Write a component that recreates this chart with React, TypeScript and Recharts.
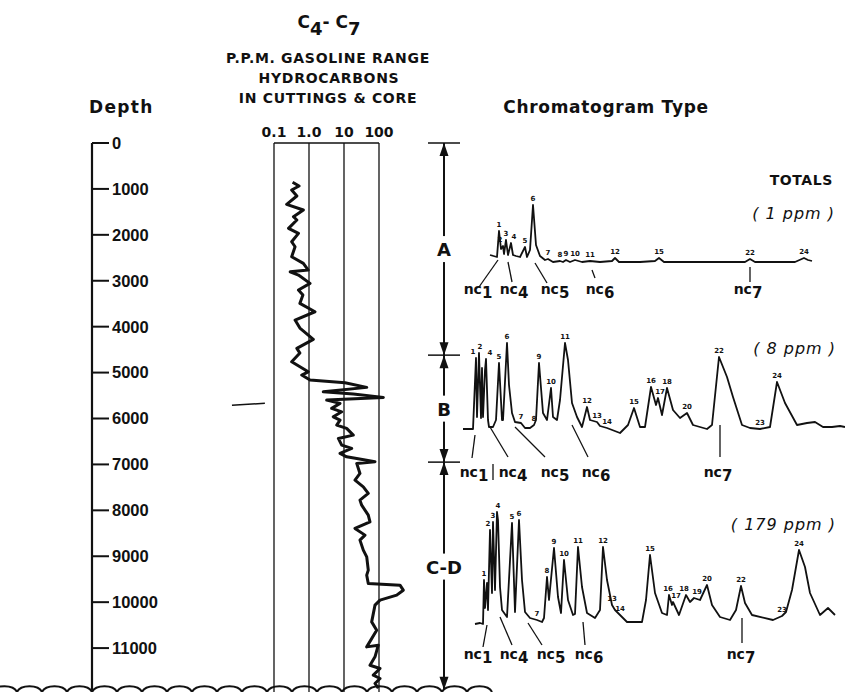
import React from 'react';
import {
  ComposedChart,
  LineChart,
  Line,
  XAxis,
  YAxis,
  ReferenceLine,
  ReferenceDot,
  Scatter,
  LabelList,
} from 'recharts';

// ---- C4-C7 gasoline range hydrocarbons (ppm) vs depth (ft) ----
const depthFt = [
  856, 937, 1024, 1155, 1335, 1460, 1606, 1678, 1858, 1967,
  2150, 2259, 2477, 2621, 2767, 2804, 2876, 3057, 3203, 3312,
  3492, 3675, 3856, 4031, 4277, 4473, 4575, 4765, 4983, 5054,
  5163, 5222, 5322, 5418, 5468, 5540, 5599, 5671, 5780, 5854,
  5963, 6035, 6144, 6216, 6362, 6434, 6580, 6652, 6760, 6834,
  6869, 6943, 6978, 7196, 7342, 7488, 7632, 7778, 7887, 8105,
  8251, 8394, 8540, 8649, 8867, 9013, 9303, 9412, 9593, 9630,
  9739, 9847, 9956, 10065, 10429, 10610, 10974, 10937, 11191, 11373,
  11445, 11590, 11662, 11771, 11874,
];
const ppmC4C7 = [
  0.34, 0.52, 0.32, 0.45, 0.23, 0.69, 0.36, 0.45, 0.26, 0.5,
  0.32, 0.4, 0.32, 0.69, 0.95, 0.29, 0.5, 1.07, 0.5, 0.67,
  0.55, 1.48, 0.4, 0.55, 1.33, 0.45, 0.55, 0.32, 0.95, 0.62,
  1.07, 10.7, 44.6, 2.56, 18.4, 133, 3.2, 7.7, 4.45, 8.6,
  4.94, 7.7, 6.2, 11.9, 18.4, 6.9, 8.6, 16.6, 7.7, 11.9,
  23.1, 76.9, 23.1, 28.6, 20.6, 35.6, 49.4, 28.6, 32, 49.4,
  55.3, 20.6, 39.8, 28.6, 35.6, 44.6, 49.4, 44.6, 49.4, 398,
  494, 321, 107, 76.9, 61.8, 85.9, 44.6, 95.5, 76.9, 55.3,
  107, 68.7, 107, 76.9, 95.5,
];
const depthTicks = [0, 1000, 2000, 3000, 4000, 5000, 6000, 7000, 8000, 9000, 10000, 11000];
const ppmTicks = [0.1, 1, 10, 100];
const sampleMarkDepth = 5690;

// ---- zones ----
const zoneNames = ['A', 'B', 'C-D'];
const zoneTops = [0, 4620, 6950];
const zoneBottom = 11906;
const zoneLabelDepths = [2310, 5785, 9225];

// ---- chromatograms (retention, response); peaks: [number, retention, label nudge] ----
const tA = [3.0, 3.7, 3.9, 4.1, 4.3, 4.4, 4.6, 4.8, 5.1, 5.3, 5.6, 6.0, 6.5, 6.7, 7.0, 7.3, 7.6, 8.0, 8.5, 8.8, 9.3, 10.0, 10.3, 10.6, 11.0, 11.5, 12.2, 13.0, 14.0, 15.2, 15.5, 15.9, 18.0, 19.5, 19.9, 20.4, 24.0, 28.5, 29.0, 29.5, 33.5, 34.4, 34.8, 35.2];
const rA = [10, 8, 34, 16, 19, 11, 25, 10, 22, 10, 9, 8, 18, 8, 15, 60, 20, 9, 5, 6, 3, 4, 3, 5, 3, 5, 3, 4, 3, 4, 7, 3, 3, 4, 7, 3, 3, 3, 6, 3, 3, 7, 5, 4];
const peaksA: [string, number, number][] = [['1', 3.9, 0], ['2', 4.3, -3], ['3', 4.6, 0], ['4', 5.1, 3], ['5', 6.5, 0], ['6', 7.3, 0], ['7', 8.8, 0], ['8', 10.0, 0], ['9', 10.6, 0], ['10', 11.5, 0], ['11', 13.0, 0], ['12', 15.5, 0], ['15', 19.9, 0], ['22', 29.0, 0], ['24', 34.4, 0]];

const tB = [0.3, 1.3, 1.6, 1.7, 1.9, 2.1, 2.2, 2.3, 2.5, 2.6, 2.8, 2.9, 3.3, 3.6, 3.9, 4.2, 4.3, 4.7, 4.9, 5.2, 5.5, 6.1, 6.5, 7.0, 7.4, 7.6, 7.9, 8.3, 8.7, 9.1, 9.3, 9.7, 10.0, 10.5, 10.8, 11.2, 11.7, 12.2, 12.7, 13.0, 13.7, 14.0, 14.7, 16.0, 16.8, 17.4, 18.0, 18.5, 19.1, 19.6, 19.8, 20.2, 20.7, 21.3, 22.0, 22.7, 23.3, 24.7, 25.2, 25.9, 26.7, 27.3, 28.2, 29.0, 30.0, 31.0, 31.7, 32.5, 33.7, 34.7, 35.5, 36.3, 37.2, 38.0, 38.5];
const rB = [6, 6, 77, 18, 82, 17, 67, 18, 65, 76, 15, 8, 8, 15, 72, 15, 15, 92, 50, 22, 13, 12, 7, 7, 10, 15, 72, 22, 15, 47, 18, 15, 35, 92, 75, 32, 18, 8, 28, 15, 13, 9, 7, 2, 10, 27, 8, 8, 48, 30, 37, 20, 47, 25, 17, 22, 10, 6, 10, 78, 58, 38, 10, 7, 6, 8, 53, 32, 10, 12, 13, 8, 8, 9, 8];
const peaksB: [string, number, number][] = [['1', 1.6, -3], ['2', 1.9, 1], ['4', 2.6, 4], ['5', 3.9, 0], ['6', 4.7, 0], ['7', 6.1, 0], ['8', 7.4, 0], ['9', 7.9, 0], ['10', 9.1, 0], ['11', 10.5, 0], ['12', 12.7, 0], ['13', 13.7, 0], ['14', 14.7, 0], ['15', 17.4, 0], ['16', 19.1, 0], ['17', 19.8, 2], ['18', 20.7, 0], ['20', 22.7, 0], ['22', 25.9, 0], ['23', 30.0, 0], ['24', 31.7, 0]];

const tC = [1.5, 2.0, 2.3, 2.4, 2.5, 2.7, 2.8, 3.0, 3.2, 3.3, 3.5, 3.7, 3.8, 4.0, 4.2, 4.7, 5.2, 5.5, 5.9, 6.2, 6.5, 7.0, 7.7, 8.2, 8.4, 8.7, 8.9, 9.4, 9.8, 10.1, 10.4, 10.8, 11.3, 11.5, 11.8, 12.2, 12.7, 13.5, 14.0, 14.3, 14.7, 15.2, 15.5, 16.0, 16.7, 18.2, 18.6, 19.0, 19.5, 20.2, 20.7, 20.9, 21.2, 21.3, 21.9, 22.6, 23.0, 23.4, 24.0, 24.7, 25.2, 26.0, 27.0, 27.6, 28.1, 28.5, 29.2, 31.3, 32.2, 32.6, 33.2, 33.9, 34.5, 35.0, 36.0, 36.8, 37.5];
const rC = [4, 5, 4, 48, 20, 45, 18, 98, 35, 106, 38, 116, 108, 41, 18, 11, 105, 16, 108, 48, 16, 10, 8, 6, 10, 51, 28, 80, 31, 15, 68, 28, 13, 14, 81, 41, 15, 10, 18, 81, 48, 23, 18, 13, 6, 6, 28, 73, 35, 15, 13, 33, 23, 26, 13, 33, 26, 30, 28, 43, 23, 11, 8, 18, 42, 25, 13, 8, 12, 16, 38, 78, 61, 35, 13, 20, 13];
const peaksC: [string, number, number][] = [['1', 2.4, 0], ['2', 3.0, -2], ['3', 3.3, 0], ['4', 3.7, 1], ['5', 5.2, 0], ['6', 5.9, 0], ['7', 7.7, 0], ['8', 8.7, 0], ['9', 9.4, 0], ['10', 10.4, 0], ['11', 11.8, 0], ['12', 14.3, 0], ['13', 15.2, 0], ['14', 16.0, 0], ['15', 19.0, 0], ['16', 20.9, -1], ['17', 21.3, 3], ['18', 22.6, -2], ['19', 23.4, 3], ['20', 24.7, 0], ['22', 28.1, 0], ['23', 32.2, 0], ['24', 33.9, 0]];

// normal paraffin markers: nc1, nc4, nc5, nc6, nc7
const ncNames = ['1', '4', '5', '6', '7'];
const ncTextA = [1.8, 5.4, 9.5, 14.0, 28.8];
const ncLeadA = [[3.8, 5, 1.9, -22], [4.8, 3, 5.2, -17], [7.5, 2, 8.7, -18], [13.2, -5, 13.5, -13], [29.0, -2, 29.0, -17]];
const ncTextB = [1.4, 5.3, 9.5, 13.6, 25.8];
const ncLeadB = [[1.5, 0, 1.2, -23], [3.0, 8, 4.8, -22], [5.5, 8, 8.5, -22], [11.2, 10, 12.8, -22], [26.0, 10, 26.0, -22], [3.3, -29, 3.3, -45]];
const ncTextC = [1.8, 5.4, 9.1, 12.9, 28.1];
const ncLeadC = [[2.7, 3, 2.3, -19], [4.0, 11, 5.2, -17], [6.8, 5, 8.2, -17], [12.3, 6, 12.5, -17], [28.2, 10, 28.2, -15]];

const profile = depthFt.map((d, i) => ({ depth: d, ppm: ppmC4C7[i] }));
const mkChrom = (t: number[], r: number[], peaks: [string, number, number][]) =>
  t.map((v, i) => {
    const pk = peaks.find((p) => p[1] === v);
    return { t: v, r: r[i], p: pk ? pk[0] + '|' + pk[2] : undefined };
  });

const head = "'DejaVu Sans', sans-serif";
const ink = '#111';

const PeakLabel = (props: any) => {
  const { value } = props;
  if (!value) return null;
  const [label, nudge] = String(value).split('|');
  const x = (props.x ?? props.viewBox?.x) + Number(nudge || 0);
  const y = props.y ?? props.viewBox?.y;
  return (
    <text x={x} y={y - 4} textAnchor="middle" fontSize={7} fontWeight={700} fontFamily={head} fill={ink}>
      {label}
    </text>
  );
};

const Arrow = (props: any) => {
  const { cx, cy, payload } = props;
  const h = 13;
  const w = 4.5;
  const base = cy + (payload.dir === 'up' ? h : -h);
  return <polygon points={`${cx},${cy} ${cx - w},${base} ${cx + w},${base}`} fill={ink} />;
};

const ZoneLabel = (props: any) => {
  const { cx, cy, payload } = props;
  return (
    <g>
      <rect x={cx - 22} y={cy - 13} width={44} height={26} fill="#fff" />
      <text x={cx} y={cy + 7} textAnchor="middle" fontSize={18} fontWeight={700} fontFamily={head} fill={ink}>
        {payload.name}
      </text>
    </g>
  );
};

function Chromatogram(props: {
  t: number[]; r: number[]; peaks: [string, number, number][];
  top: number; rMin: number; rMax: number; ncR: number;
  ncText: number[]; ncLead: number[][];
}) {
  const { t, r, peaks, top, rMin, rMax, ncR, ncText, ncLead } = props;
  const data = mkChrom(t, r, peaks);
  const h = rMax - rMin + 25;
  return (
    <div style={{ position: 'absolute', left: 440, top }}>
      <LineChart width={405} height={h} data={data} margin={{ top: 20, right: 0, bottom: 5, left: 20 }}>
        <XAxis type="number" dataKey="t" domain={[0, 38.5]} hide allowDataOverflow />
        <YAxis type="number" domain={[rMin, rMax]} hide allowDataOverflow />
        {ncLead.map((s, i) => (
          <ReferenceLine key={'l' + i} segment={[{ x: s[0], y: s[1] }, { x: s[2], y: s[3] }]} stroke={ink} strokeWidth={1.3} ifOverflow="visible" />
        ))}
        {ncNames.map((n, i) => (
          <ReferenceDot
            key={'n' + i}
            x={ncText[i]}
            y={ncR}
            ifOverflow="visible"
            shape={(p: any) => (
              <text x={p.cx} y={p.cy} textAnchor="middle" fontSize={14} fontWeight={700} fontFamily={head} fill={ink}>
                nc<tspan dy={4} fontSize={15}>{n}</tspan>
              </text>
            )}
          />
        ))}
        <Line type="linear" dataKey="r" stroke={ink} strokeWidth={1.8} dot={false} isAnimationActive={false} strokeLinejoin="round">
          <LabelList dataKey="p" content={PeakLabel} />
        </Line>
      </LineChart>
    </div>
  );
}

export default function App() {
  const arrowMarks = [
    { col: 0.5, depth: zoneTops[0], dir: 'up' },
    ...zoneTops.slice(1).flatMap((d) => [
      { col: 0.5, depth: d, dir: 'down' },
      { col: 0.5, depth: d, dir: 'up' },
    ]),
    { col: 0.5, depth: zoneBottom, dir: 'down' },
  ];
  const zoneLabels = zoneNames.map((n, i) => ({ col: 0.5, depth: zoneLabelDepths[i], name: n }));

  let wave = 'M -8 692';
  for (let i = 0; i < 20; i++) wave += ' a 13 8 0 0 1 25 0';

  return (
    <div style={{ position: 'absolute', left: 0, top: 0, width: 845, height: 692, overflow: 'hidden', background: '#fff' }}>
      <svg width={845} height={692} style={{ position: 'absolute', left: 0, top: 0 }} fontFamily={head} fill={ink}>
        <text x={329} y={28} textAnchor="middle" fontSize={17} fontWeight={700}>
          C<tspan dy={7} fontSize={18}>4</tspan>
          <tspan dy={-7}>- C</tspan>
          <tspan dy={7} fontSize={18}>7</tspan>
        </text>
        <text x={328} y={63} textAnchor="middle" fontSize={14} fontWeight={700} letterSpacing={0.7}>P.P.M. GASOLINE RANGE</text>
        <text x={329} y={83} textAnchor="middle" fontSize={14} fontWeight={700} letterSpacing={0.7}>HYDROCARBONS</text>
        <text x={328} y={103} textAnchor="middle" fontSize={14} fontWeight={700} letterSpacing={0.7}>IN CUTTINGS &amp; CORE</text>
        <text x={89} y={113} fontSize={17} fontWeight={700} letterSpacing={1.3}>Depth</text>
        <text x={606} y={113} textAnchor="middle" fontSize={17} fontWeight={700} letterSpacing={0.7}>Chromatogram Type</text>
        <text x={833} y={185} textAnchor="end" fontSize={14} fontWeight={700} letterSpacing={0.6}>TOTALS</text>
        <text x={835} y={219} textAnchor="end" fontSize={16} fontStyle="italic" letterSpacing={1}>( 1 ppm )</text>
        <text x={836} y={354} textAnchor="end" fontSize={16} fontStyle="italic" letterSpacing={1}>( 8 ppm )</text>
        <text x={836} y={530} textAnchor="end" fontSize={16} fontStyle="italic" letterSpacing={1}>( 179 ppm )</text>
        <path d={wave} fill="none" stroke={ink} strokeWidth={2} />
      </svg>

      {/* depth profile: plot spans x 92..412; log domain chosen so each decade is 35px and 0.1 sits at x=274 */}
      <div style={{ position: 'absolute', left: 0, top: 0 }}>
        <ComposedChart layout="vertical" width={420} height={700} data={profile} margin={{ top: 123, right: 8, bottom: 6, left: 92 }}>
          <XAxis
            type="number"
            scale="log"
            domain={[10 ** -6.2, 10 ** 2.943]}
            orientation="top"
            ticks={ppmTicks}
            interval={0}
            tickFormatter={(v: number) => (v === 1 ? '1.0' : String(v))}
            axisLine={false}
            tickLine={false}
            tickSize={0}
            tickMargin={6}
            height={20}
            allowDataOverflow
            tick={{ fill: ink, fontSize: 14, fontWeight: 700, fontFamily: head }}
          />
          <YAxis
            type="number"
            dataKey="depth"
            domain={[0, 12000]}
            orientation="left"
            mirror
            width={80}
            ticks={depthTicks}
            interval={0}
            tickSize={17}
            tickMargin={3}
            axisLine={{ stroke: ink, strokeWidth: 2.2 }}
            tickLine={{ stroke: ink, strokeWidth: 2 }}
            tick={{ fill: ink, fontSize: 16.5, fontWeight: 700, fontFamily: "'Liberation Sans', Arial, sans-serif" }}
          />
          {ppmTicks.map((v) => (
            <ReferenceLine key={v} x={v} stroke={ink} strokeWidth={1.3} />
          ))}
          <ReferenceLine segment={[{ x: 0.1, y: 0 }, { x: 100, y: 0 }]} stroke={ink} strokeWidth={1.5} />
          <ReferenceLine segment={[{ x: 0.0063, y: sampleMarkDepth + 20 }, { x: 0.055, y: sampleMarkDepth - 20 }]} stroke={ink} strokeWidth={1.5} ifOverflow="visible" />
          <Line type="linear" dataKey="ppm" stroke={ink} strokeWidth={3} dot={false} isAnimationActive={false} strokeLinejoin="round" />
        </ComposedChart>
      </div>

      {/* zone column */}
      <div style={{ position: 'absolute', left: 420, top: 0 }}>
        <ComposedChart width={50} height={700} margin={{ top: 143, right: 10, bottom: 6, left: 8 }}>
          <XAxis type="number" dataKey="col" domain={[0, 1]} hide />
          <YAxis type="number" dataKey="depth" domain={[0, 12000]} reversed hide />
          <ReferenceLine segment={[{ x: 0.5, y: 0 }, { x: 0.5, y: zoneBottom }]} stroke={ink} strokeWidth={2} />
          {zoneTops.map((d) => (
            <ReferenceLine key={d} segment={[{ x: 0, y: d }, { x: 1, y: d }]} stroke={ink} strokeWidth={1.5} />
          ))}
          <Scatter data={zoneLabels} shape={ZoneLabel} isAnimationActive={false} />
          <Scatter data={arrowMarks} shape={Arrow} isAnimationActive={false} />
        </ComposedChart>
      </div>

      <Chromatogram t={tA} r={rA} peaks={peaksA} top={180} rMin={-40} rMax={65} ncR={-29} ncText={ncTextA} ncLead={ncLeadA} />
      <Chromatogram t={tB} r={rB} peaks={peaksB} top={315} rMin={-50} rMax={100} ncR={-42} ncText={ncTextB} ncLead={ncLeadB} />
      <Chromatogram t={tC} r={rC} peaks={peaksC} top={488} rMin={-40} rMax={120} ncR={-31} ncText={ncTextC} ncLead={ncLeadC} />
    </div>
  );
}
